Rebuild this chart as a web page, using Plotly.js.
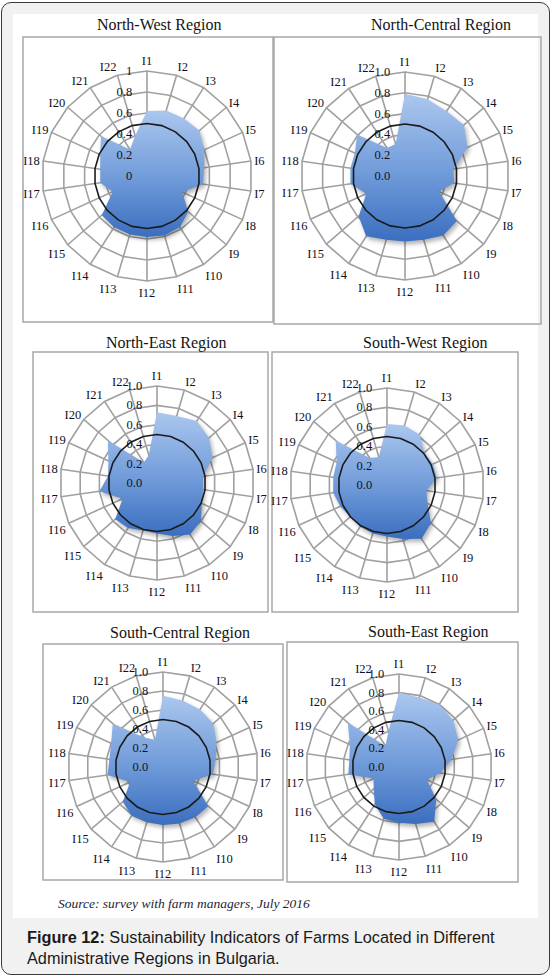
<!DOCTYPE html>
<html>
    <head>
        <title>Figure 12</title>
        <meta charset="utf-8">
        <style>
            *{
                box-sizing: border-box;
                margin: 0px;
                padding: 0px;
            }
            body{
                width: 551px;
                height: 976px;
                background: #ffffff;
                position: relative;
                overflow: hidden;
            }
            .frame{
                position: absolute;
                left: 1px; top: 2px;
                width: 549px; height: 973px;
                border: 1.5px solid #3a3a3a;
                border-radius: 10px;
                background: #f1f1f1;
            }
            .panel{
                position: absolute;
                left: 13px; top: 14px;
                width: 525px; height: 904px;
                background: #ffffff;
            }
            .caption{
                position: absolute;
                left: 27px; top: 927px;
                width: 520px;
                font-family: "Liberation Sans", Arial, sans-serif;
                font-size: 16.3px;
                line-height: 21px;
                color: #1a1a1a;
                white-space: nowrap;
            }
            #charts{
                position: absolute;
                left: 0px; top: 0px;
                width: 551px; height: 976px;
            }
        </style>
        <script src="https://cdn.plot.ly/plotly-3.0.1.min.js" charset="utf-8"></script>
    </head>
    <body>
        <div class="frame"></div>
        <div class="panel"></div>
        <div id="charts"></div>
        <div class="caption">
            <div><b>Figure 12:</b><span> Sustainability Indicators of Farms Located in Different</span></div>
            <div>Administrative Regions in Bulgaria.</div>
        </div>
        <svg width="0" height="0" style="position:absolute">
            <defs>
                <linearGradient id="blueFill" x1="0" y1="0" x2="0" y2="1">
                    <stop offset="0%" stop-color="#abc7ee"/>
                    <stop offset="55%" stop-color="#6f9ad9"/>
                    <stop offset="100%" stop-color="#3a6ebf"/>
                </linearGradient>
            </defs>
        </svg>
    </body>
    <script>
        // data
        const indicators = ['I1','I2','I3','I4','I5','I6','I7','I8','I9','I10','I11',
                            'I12','I13','I14','I15','I16','I17','I18','I19','I20','I21','I22'];
        const threshold = [0.5,0.5,0.5,0.5,0.5,0.5,0.5,0.5,0.5,0.5,0.5,
                           0.5,0.5,0.5,0.5,0.5,0.5,0.5,0.5,0.5,0.5,0.5];
        const northWest    = [0.62,0.65,0.65,0.66,0.60,0.55,0.54,0.37,0.52,0.58,0.59,0.58,0.58,0.58,0.57,0.36,0.45,0.45,0.49,0.58,0.30,0.40];
        const northCentral = [0.79,0.77,0.74,0.75,0.66,0.47,0.48,0.36,0.66,0.68,0.64,0.63,0.64,0.69,0.59,0.41,0.53,0.53,0.53,0.61,0.32,0.32];
        const northEast    = [0.73,0.72,0.76,0.71,0.63,0.48,0.48,0.51,0.60,0.63,0.57,0.52,0.51,0.55,0.57,0.39,0.60,0.51,0.55,0.67,0.25,0.30];
        const southWest    = [0.63,0.64,0.62,0.51,0.52,0.52,0.41,0.46,0.60,0.66,0.58,0.53,0.52,0.51,0.50,0.53,0.56,0.56,0.57,0.70,0.33,0.30];
        const southCentral = [0.75,0.73,0.72,0.70,0.62,0.56,0.53,0.35,0.63,0.63,0.62,0.61,0.60,0.61,0.56,0.38,0.59,0.57,0.60,0.70,0.37,0.30];
        const southEast    = [0.80,0.78,0.80,0.77,0.70,0.57,0.45,0.33,0.53,0.70,0.64,0.60,0.58,0.48,0.36,0.30,0.55,0.54,0.58,0.73,0.27,0.40];
        const sourceNote = 'Source: survey with farm managers, July 2016';

        const W = 551, H = 976;
        // name, values, center x/y, radius, box [x0,y0,x1,y1], title x/y, tick format
        const charts = [
            {name:'North-West Region',    vals:northWest,    cx:147, cy:176, r:105, box:[23,37,273,322],  tx:159, ty:25,  fmt:''},
            {name:'North-Central Region', vals:northCentral, cx:405, cy:176, r:104, box:[274,37,541,324], tx:441, ty:25,  fmt:'.1f'},
            {name:'North-East Region',    vals:northEast,    cx:157, cy:483, r:97,  box:[33,352,268,612], tx:166, ty:343, fmt:'.1f'},
            {name:'South-West Region',    vals:southWest,    cx:387, cy:485, r:97,  box:[272,352,518,612],tx:425, ty:343, fmt:'.1f'},
            {name:'South-Central Region', vals:southCentral, cx:163, cy:767, r:95,  box:[43,644,283,880], tx:180, ty:633, fmt:'.1f'},
            {name:'South-East Region',    vals:southEast,    cx:399, cy:767, r:93,  box:[287,642,518,882],tx:428, ty:632, fmt:'.1f'}
        ];

        function px(x){ return x / W; }
        function py(y){ return 1 - y / H; }

        function drawCharts()
        {
            let data = [];
            let layout = {
                width: W, height: H,
                margin: {l:0, r:0, t:0, b:0},
                paper_bgcolor: 'rgba(0,0,0,0)',
                showlegend: false,
                shapes: [],
                annotations: []
            };
            const serif = 'Liberation Serif, Times New Roman, serif';

            for (let i = 0; i < charts.length; i++)
            {
                let c = charts[i];
                let key = i == 0 ? 'polar' : 'polar' + (i + 1);

                data.push({
                    type: 'scatterpolar',
                    subplot: key,
                    r: c.vals.concat([c.vals[0]]),
                    theta: indicators.concat([indicators[0]]),
                    mode: 'lines',
                    fill: 'toself',
                    fillcolor: '#6f9ad9',
                    line: {width: 0, color: '#6f9ad9'},
                    hoverinfo: 'skip'
                });
                data.push({
                    type: 'scatterpolar',
                    subplot: key,
                    r: threshold.concat([threshold[0]]),
                    theta: indicators.concat([indicators[0]]),
                    mode: 'lines',
                    line: {width: 1.6, color: '#1b1b1b'},
                    hoverinfo: 'skip'
                });

                layout[key] = {
                    domain: {
                        x: [px(c.cx - c.r), px(c.cx + c.r)],
                        y: [py(c.cy + c.r), py(c.cy - c.r)]
                    },
                    bgcolor: 'rgba(0,0,0,0)',
                    gridshape: 'linear',
                    angularaxis: {
                        type: 'category',
                        categoryarray: indicators,
                        direction: 'clockwise',
                        rotation: 90,
                        ticks: '',
                        showline: true,
                        linecolor: '#a0a0a0',
                        linewidth: 1.6,
                        gridcolor: '#a0a0a0',
                        gridwidth: 1.6,
                        tickfont: {family: serif, size: 12.5, color: '#12121f'}
                    },
                    radialaxis: {
                        range: [0, 1],
                        dtick: 0.2,
                        tickformat: c.fmt,
                        ticksuffix: '\u2007\u2007',
                        angle: 90,
                        side: 'counterclockwise',
                        tickangle: 90,
                        ticks: '',
                        showline: false,
                        gridcolor: '#a0a0a0',
                        gridwidth: 1.6,
                        tickfont: {family: serif, size: 12.5, color: '#12121f'}
                    }
                };

                layout.shapes.push({
                    type: 'rect', xref: 'paper', yref: 'paper',
                    x0: px(c.box[0]), x1: px(c.box[2]),
                    y0: py(c.box[3]), y1: py(c.box[1]),
                    line: {color: '#a8a8a8', width: 1.5},
                    layer: 'below'
                });
                layout.annotations.push({
                    xref: 'paper', yref: 'paper',
                    x: px(c.tx), y: py(c.ty),
                    xanchor: 'center', yanchor: 'middle',
                    showarrow: false,
                    text: c.name,
                    font: {family: serif, size: 16, color: '#141414'}
                });
            }

            layout.annotations.push({
                xref: 'paper', yref: 'paper',
                x: px(56), y: py(903),
                xanchor: 'left', yanchor: 'middle',
                showarrow: false,
                text: '<i>' + sourceNote + '</i>',
                font: {family: serif, size: 13.5, color: '#1e1e3a'}
            });

            Plotly.newPlot('charts', data, layout, {staticPlot: true}).then(function(){
                // Excel-like vertical gradient and soft shadow on the filled areas
                document.querySelectorAll('#charts .js-fill').forEach(function(p){
                    p.style.fill = 'url(#blueFill)';
                    p.style.filter = 'drop-shadow(2px 3px 2px rgba(0,0,0,0.3))';
                });
            });
        }

        drawCharts();
    </script>
</html>
